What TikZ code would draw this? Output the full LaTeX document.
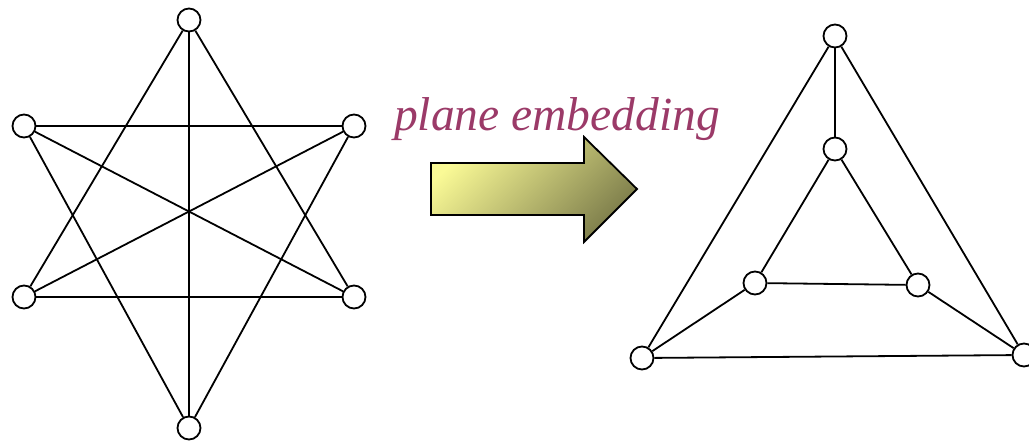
\documentclass[tikz,border=0pt]{standalone}
\usepackage{fontspec}
\setmainfont{Liberation Serif}
\usepackage{tikz}
\definecolor{plum}{RGB}{155,58,104}
\definecolor{paleyellow}{RGB}{250,250,150}
\definecolor{olive}{RGB}{125,125,75}

\begin{document}
\begin{tikzpicture}[x=1pt,y=-1pt,
  vertex/.style={circle,draw,line width=1.8pt,fill=white,minimum size=23pt,inner sep=0pt},
  edge/.style={line width=1.8pt}]
\useasboundingbox (0,0) rectangle (1029,440);
% Left graph
\node[vertex] (t) at (189,20) {};
\node[vertex] (lt) at (24,126) {};
\node[vertex] (rt) at (354,126) {};
\node[vertex] (lb) at (24,297) {};
\node[vertex] (rb) at (354,297) {};
\node[vertex] (b) at (189,428) {};
\draw[edge] (lt) -- (rt);
\draw[edge] (lb) -- (rb);
\draw[edge] (t) -- (b);
\draw[edge] (lt) -- (rb);
\draw[edge] (lb) -- (rt);
\draw[edge] (t) -- (lb);
\draw[edge] (t) -- (rb);
\draw[edge] (b) -- (lt);
\draw[edge] (b) -- (rt);
% Arrow
\node[text=plum,font=\fontsize{47.5}{48}\selectfont\itshape,anchor=base] (label) at (557,130) {plane embedding};
\shade[draw=black,line width=1.8pt,top color=paleyellow,bottom color=olive,shading angle=45]
  (431,163) -- (584,163) -- (584,137) -- (637,189) -- (584,242) -- (584,215) -- (431,215) -- cycle;
% Right graph
\node[vertex] (ot) at (835,36) {};
\node[vertex] (ol) at (642,358) {};
\node[vertex] (or) at (1024,355) {};
\node[vertex] (it) at (835,149) {};
\node[vertex] (il) at (755,283) {};
\node[vertex] (ir) at (918,285) {};
\draw[edge] (ot) -- (ol) -- (or) -- (ot);
\draw[edge] (it) -- (il) -- (ir) -- (it);
\draw[edge] (ot) -- (it);
\draw[edge] (ol) -- (il);
\draw[edge] (or) -- (ir);
\end{tikzpicture}
\end{document}
